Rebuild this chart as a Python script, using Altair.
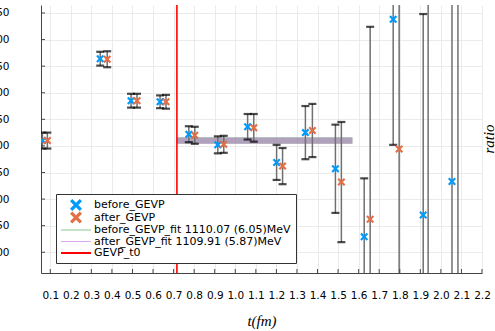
import altair as alt
import pandas as pd

# ---------------- data ----------------
t_before = [0.062, 0.343, 0.493, 0.634, 0.774, 0.915, 1.060, 1.201, 1.341, 1.487, 1.627, 1.768, 1.914, 2.054]
ratio_before = [1110, 1264, 1185, 1183, 1122, 1102, 1136, 1069, 1125, 1057, 929, 1338, 970, 1033]
err_before = [15, 13, 13, 12, 15, 16, 24, 33, 50, 83, 110, 236, 378, 400]

t_after = [0.086, 0.377, 0.522, 0.663, 0.803, 0.944, 1.090, 1.230, 1.375, 1.516, 1.656, 1.797, 1.938, 2.083]
ratio_after = [1110, 1263, 1185, 1183, 1120, 1103, 1134, 1062, 1129, 1032, 962, 1094, 780, 1500]
err_after = [15, 15, 13, 13, 16, 16, 26, 34, 50, 113, 362, 400, 800, 900]

fit_names = ["before_GEVP_fit 1110.07 (6.05)MeV", "after_GEVP_fit 1109.91 (5.87)MeV"]
fit_center = [1110.07, 1109.91]
fit_err = [6.05, 5.87]
fit_t_start = [0.716, 0.716]
fit_t_end = [1.57, 1.57]

t0_value = [0.716]

series_names = ["before_GEVP", "after_GEVP"] + fit_names + ["GEVP_t0"]
series_colors = ["#009AFA", "#E36F47", "#8fcc97", "#dcaae6", "#FF0000"]

x_ticks = [0.1, 0.2, 0.3, 0.4, 0.5, 0.6, 0.7, 0.8, 0.9, 1.0, 1.1, 1.2, 1.3, 1.4, 1.5,
           1.6, 1.7, 1.8, 1.9, 2.0, 2.1, 2.2]
y_ticks = [900, 950, 1000, 1050, 1100, 1150, 1200, 1250, 1300, 1350]
x_title = "t(fm)"
y_title = ["ratio"]

# ---------------- tables ----------------
pts = pd.DataFrame({
    "t": t_before + t_after,
    "ratio": ratio_before + ratio_after,
    "err": err_before + err_after,
    "series": ["before_GEVP"] * len(t_before) + ["after_GEVP"] * len(t_after),
})
fits = pd.DataFrame({"name": fit_names, "c": fit_center, "e": fit_err,
                     "t1": fit_t_start, "t2": fit_t_end})
t0 = pd.DataFrame({"t": t0_value})
xt = pd.DataFrame({"v": x_ticks})
yt = pd.DataFrame({"v": y_ticks})
ylab = pd.DataFrame({"label": y_title})

W, H = 441, 268
FONT = "DejaVu Sans"
xscale = alt.Scale(domain=[0.055, 2.2], nice=False, zero=False)
yscale = alt.Scale(domain=[861, 1365], nice=False, zero=False)

xaxis = alt.Axis(values=x_ticks, format=".1f", title=x_title,
                 labelFont=FONT, labelFontSize=10.5, labelColor="black",
                 labelPadding=17, ticks=False, tickSize=0,
                 labelFlush=False, labelOverlap=False,
                 domainColor="#444444", domainWidth=1,
                 gridColor="#e6e6e6", gridWidth=0.8,
                 titleFont="Liberation Serif", titleFontStyle="italic",
                 titleFontWeight="normal", titleFontSize=15,
                 titleColor="black", titlePadding=13)
yaxis = alt.Axis(values=y_ticks, format="d", title=None,
                 labelFont=FONT, labelFontSize=10.5, labelColor="black",
                 labelPadding=32, ticks=False, tickSize=0,
                 labelFlush=False, labelOverlap=False,
                 domainColor="#444444", domainWidth=1,
                 gridColor="#e6e6e6", gridWidth=0.8)

XPATH = "M-1,-0.62L-0.62,-1L0,-0.38L0.62,-1L1,-0.62L0.38,0L1,0.62L0.62,1L0,0.38L-0.62,1L-1,0.62L-0.38,0Z"
LPATH = "M-2.5,-0.09L2.5,-0.09L2.5,0.09L-2.5,0.09Z"
RPATH = "M-2.5,-0.17L2.5,-0.17L2.5,0.17L-2.5,0.17Z"
series_shapes = [XPATH, XPATH, LPATH, LPATH, RPATH]

legend = alt.Legend(title=None, orient="none", legendX=15, legendY=189,
                    fillColor="white", strokeColor="#333333", padding=5,
                    symbolSize=144, symbolOffset=9, labelOffset=12,
                    symbolStrokeWidth=0, labelFont=FONT, labelFontSize=11,
                    labelColor="black", labelLimit=400, rowPadding=0.5)

# ---------------- layers ----------------
band_colors = ["#3EA44E", "#C271D2"]
bands = []
for i, nm in enumerate(fit_names):
    bands.append(
        alt.Chart(fits[fits["name"] == nm]).mark_rect(color=band_colors[i], opacity=0.5)
        .transform_calculate(lo="datum.c - datum.e", hi="datum.c + datum.e")
        .encode(x=alt.X("t1:Q", scale=xscale, axis=xaxis), x2="t2:Q",
                y=alt.Y("lo:Q", scale=yscale, axis=yaxis), y2="hi:Q")
    )

redline = alt.Chart(t0).mark_rule(color="#FF0000", strokeWidth=1.6).encode(
    x=alt.X("t:Q", scale=xscale, axis=xaxis))

base = alt.Chart(pts).transform_calculate(
    lo="datum.ratio - datum.err", hi="datum.ratio + datum.err")

err_lines = base.mark_rule(clip=True, color="#707070", strokeWidth=1.5).encode(
    x=alt.X("t:Q", scale=xscale, axis=xaxis),
    y=alt.Y("lo:Q", scale=yscale, axis=yaxis),
    y2="hi:Q")

caps_hi = base.mark_tick(clip=True, color="black", thickness=2.2, size=8,
                         orient="horizontal").encode(
    x=alt.X("t:Q", scale=xscale, axis=xaxis),
    y=alt.Y("hi:Q", scale=yscale, axis=yaxis))
caps_lo = base.mark_tick(clip=True, color="black", thickness=2.2, size=8,
                         orient="horizontal").encode(
    x=alt.X("t:Q", scale=xscale, axis=xaxis),
    y=alt.Y("lo:Q", scale=yscale, axis=yaxis))

points = base.mark_point(filled=True, opacity=1, size=64, clip=True).encode(
    x=alt.X("t:Q", scale=xscale, axis=xaxis),
    y=alt.Y("ratio:Q", scale=yscale, axis=yaxis),
    color=alt.Color("series:N", scale=alt.Scale(domain=series_names, range=series_colors),
                    legend=legend),
    shape=alt.Shape("series:N", scale=alt.Scale(domain=series_names, range=series_shapes),
                    legend=legend),
)

ytick_marks = alt.Chart(yt).mark_rule(color="#444444", strokeWidth=1).encode(
    y=alt.Y("v:Q", scale=yscale, axis=yaxis), x=alt.value(0), x2=alt.value(4))
xtick_marks = alt.Chart(xt).mark_rule(color="#444444", strokeWidth=1).encode(
    x=alt.X("v:Q", scale=xscale, axis=xaxis), y=alt.value(H - 4), y2=alt.value(H))

ratio_title = alt.Chart(ylab).mark_text(
    angle=270, font="Liberation Serif", fontStyle="italic", fontSize=15,
    color="black", align="center", baseline="middle").encode(
    text="label:N", x=alt.value(W + 7), y=alt.value(H / 2))

chart = alt.layer(
    *bands, redline, err_lines, caps_hi, caps_lo, points, ytick_marks, xtick_marks,
    ratio_title
).properties(
    width=W, height=H,
    autosize=alt.AutoSizeParams(type="none"),
    padding={"left": 41, "top": 5, "right": 13, "bottom": 58},
    background="white",
).configure_view(stroke=None)

chart.save("out.html", embed_options={"renderer": "svg", "actions": False})
